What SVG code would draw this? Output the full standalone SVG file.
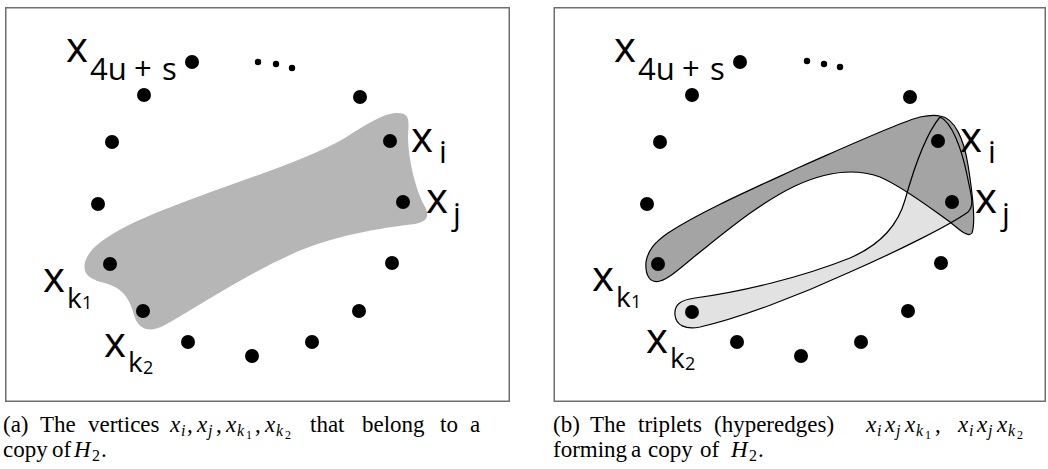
<svg xmlns="http://www.w3.org/2000/svg" xmlns:xlink="http://www.w3.org/1999/xlink" width="1048" height="469" viewBox="0 0 1048 469">
<style>
.frame{fill:#fff;stroke:#6e6e6e;stroke-width:1.5}
.dot{fill:#000}
.lbl{font-family:"Open Sans","Liberation Sans",sans-serif;fill:#000}
.big{font-size:42px}
.sub{font-size:31px}
.kk{font-size:28px}
.ss{font-size:18px}
.cap{font-family:"Liberation Serif",serif;font-size:23px;fill:#000}
.it{font-style:italic}
.s1{font-size:16px}
.s2{font-size:12px}
.edge{stroke:#000;stroke-width:1.2;fill:none;stroke-linejoin:round}
.blob{fill:#b6b6b6}
.he1{fill:#a4a4a4}
.he2{fill:#e2e2e2}
</style>
<defs>
<circle id="v" r="7" class="dot"/>
<circle id="e" r="3.2" class="dot"/>
</defs>
<rect width="1048" height="469" fill="#fff"/>

<!-- Panel (a) -->
<g id="panel-a">
<rect class="frame" x="5.75" y="7.75" width="503.5" height="393.5"/>
<g id="a-edges">
<path class="blob" d="M 397,113 C 410,113 409,120 408,135 C 408,160 416,190 424,205 C 430,215 428,222 415,224 C 380,228 330,236 290,255 C 240,278 200,305 165,325 C 150,333 140,330 135,318 C 130,300 125,290 108,284 C 92,280 82,276 85,262 C 92,238 140,218 200,196 C 260,174 310,158 345,138 C 370,122 385,113 397,113 Z"/>
</g>
<g id="a-x4us"><use xlink:href="#v" x="192" y="62"/><text class="lbl big" x="66" y="62">x</text><text class="lbl sub" y="80"><tspan x="90">4u</tspan><tspan x="134">+</tspan><tspan x="162">s</tspan></text></g>
<g id="a-dots"><use xlink:href="#e" x="258" y="62"/><use xlink:href="#e" x="276" y="64"/><use xlink:href="#e" x="292" y="68"/></g>
<g id="a-v1"><use xlink:href="#v" x="144" y="95"/></g>
<g id="a-v2"><use xlink:href="#v" x="360" y="97"/></g>
<g id="a-v3"><use xlink:href="#v" x="112" y="142"/></g>
<g id="a-xi"><use xlink:href="#v" x="390" y="141"/><text class="lbl big" x="411" y="152">x</text><text class="lbl sub" x="439" y="163">i</text></g>
<g id="a-v4"><use xlink:href="#v" x="98" y="204"/></g>
<g id="a-xj"><use xlink:href="#v" x="403" y="202"/><text class="lbl big" x="426" y="213">x</text><text class="lbl sub" x="453" y="225">j</text></g>
<g id="a-xk1"><use xlink:href="#v" x="110" y="264"/><text class="lbl big" x="43" y="292">x</text><text class="lbl kk" x="67" y="308">k</text><text class="lbl ss" x="82" y="309">1</text></g>
<g id="a-v5"><use xlink:href="#v" x="392" y="263"/></g>
<g id="a-xk2"><use xlink:href="#v" x="143" y="311"/><text class="lbl big" x="104" y="357">x</text><text class="lbl kk" x="128" y="372">k</text><text class="lbl ss" x="143" y="374">2</text></g>
<g id="a-v6"><use xlink:href="#v" x="359" y="311"/></g>
<g id="a-v7"><use xlink:href="#v" x="188" y="342"/></g>
<g id="a-v8"><use xlink:href="#v" x="312" y="342"/></g>
<g id="a-v9"><use xlink:href="#v" x="252" y="356"/></g>
</g>

<!-- Panel (b) -->
<g id="panel-b">
<rect class="frame" x="554.25" y="7.75" width="491" height="393.5"/>
<g transform="translate(548,0)">
<g id="b-edges">
<path class="he2" d="M 392,117 C 404,122 414,150 419,175 C 423,195 427,205 420,212 C 402,225 352,250 302,272 C 252,295 192,318 152,327 C 137,330 128,325 127,315 C 126,305 132,300 147,298 C 192,292 252,278 302,258 C 332,245 350,225 357,200 C 364,175 377,135 392,117 Z"/>
<path class="he1" d="M 392,116 C 407,118 416,140 420,165 C 424,190 428,222 424,233 C 420,238 412,230 402,222 C 382,208 357,188 332,177 C 307,168 277,172 247,186 C 212,203 182,228 152,252 C 132,268 122,278 112,281 C 102,284 97,275 98,262 C 100,250 107,242 120,233 C 152,212 202,190 252,167 C 302,145 352,122 372,117 C 382,115 387,115 392,116 Z"/>
<path class="edge" d="M 392,117 C 404,122 414,150 419,175 C 423,195 427,205 420,212 C 402,225 352,250 302,272 C 252,295 192,318 152,327 C 137,330 128,325 127,315 C 126,305 132,300 147,298 C 192,292 252,278 302,258 C 332,245 350,225 357,200 C 364,175 377,135 392,117 Z"/>
<path class="edge" d="M 392,116 C 407,118 416,140 420,165 C 424,190 428,222 424,233 C 420,238 412,230 402,222 C 382,208 357,188 332,177 C 307,168 277,172 247,186 C 212,203 182,228 152,252 C 132,268 122,278 112,281 C 102,284 97,275 98,262 C 100,250 107,242 120,233 C 152,212 202,190 252,167 C 302,145 352,122 372,117 C 382,115 387,115 392,116 Z"/>
</g>
<g id="b-x4us"><use xlink:href="#v" x="192" y="62"/><text class="lbl big" x="66" y="62">x</text><text class="lbl sub" y="80"><tspan x="90">4u</tspan><tspan x="134">+</tspan><tspan x="162">s</tspan></text></g>
<g id="b-dots"><use xlink:href="#e" x="259" y="61"/><use xlink:href="#e" x="276" y="64"/><use xlink:href="#e" x="292" y="67"/></g>
<g id="b-v1"><use xlink:href="#v" x="144" y="95"/></g>
<g id="b-v2"><use xlink:href="#v" x="362" y="97"/></g>
<g id="b-v3"><use xlink:href="#v" x="112" y="142"/></g>
<g id="b-xi"><use xlink:href="#v" x="390" y="141"/><text class="lbl big" x="412" y="152">x</text><text class="lbl sub" x="440" y="163">i</text></g>
<g id="b-v4"><use xlink:href="#v" x="99" y="204"/></g>
<g id="b-xj"><use xlink:href="#v" x="404" y="202"/><text class="lbl big" x="427" y="213">x</text><text class="lbl sub" x="454" y="225">j</text></g>
<g id="b-xk1"><use xlink:href="#v" x="110" y="264"/><text class="lbl big" x="44" y="291">x</text><text class="lbl kk" x="68" y="307">k</text><text class="lbl ss" x="83" y="308">1</text></g>
<g id="b-v5"><use xlink:href="#v" x="393" y="263"/></g>
<g id="b-xk2"><use xlink:href="#v" x="144" y="312"/><text class="lbl big" x="98" y="353">x</text><text class="lbl kk" x="122" y="368">k</text><text class="lbl ss" x="137" y="370">2</text></g>
<g id="b-v6"><use xlink:href="#v" x="360" y="311"/></g>
<g id="b-v7"><use xlink:href="#v" x="189" y="342"/></g>
<g id="b-v8"><use xlink:href="#v" x="313" y="342"/></g>
<g id="b-v9"><use xlink:href="#v" x="253" y="356"/></g>
</g>
</g>

<!-- Captions -->
<g id="caption-a">
<text class="cap" y="432"><tspan x="3">(a)</tspan><tspan x="40">The</tspan><tspan x="88">vertices</tspan></text>
<text class="cap it" x="170" y="432">x</text><text class="cap it s1" x="181" y="436">i</text><text class="cap" x="187" y="432">,</text>
<text class="cap it" x="197" y="432">x</text><text class="cap it s1" x="208" y="436">j</text><text class="cap" x="216" y="432">,</text>
<text class="cap it" x="226" y="432">x</text><text class="cap it s1" x="237" y="436">k</text><text class="cap s2" x="246" y="439">1</text><text class="cap" x="255" y="432">,</text>
<text class="cap it" x="265" y="432">x</text><text class="cap it s1" x="276" y="436">k</text><text class="cap s2" x="285" y="439">2</text>
<text class="cap" y="432"><tspan x="310">that</tspan><tspan x="362">belong</tspan><tspan x="440">to</tspan><tspan x="470">a</tspan></text>
<text class="cap" y="457"><tspan x="3">copy</tspan><tspan x="52">of</tspan></text>
<text class="cap it" x="74" y="457">H</text><text class="cap s1" x="92" y="461">2</text><text class="cap" x="101" y="457">.</text>
</g>

<g id="caption-b">
<text class="cap" y="432"><tspan x="553">(b)</tspan><tspan x="590">The</tspan><tspan x="638">triplets</tspan><tspan x="714">(hyperedges)</tspan></text>
<text class="cap it" x="866" y="432">x</text><text class="cap it s1" x="877" y="436">i</text>
<text class="cap it" x="885" y="432">x</text><text class="cap it s1" x="896" y="436">j</text>
<text class="cap it" x="905" y="432">x</text><text class="cap it s1" x="916" y="436">k</text><text class="cap s2" x="925" y="439">1</text><text class="cap" x="935" y="432">,</text>
<text class="cap it" x="958" y="432">x</text><text class="cap it s1" x="969" y="436">i</text>
<text class="cap it" x="977" y="432">x</text><text class="cap it s1" x="988" y="436">j</text>
<text class="cap it" x="997" y="432">x</text><text class="cap it s1" x="1008" y="436">k</text><text class="cap s2" x="1017" y="439">2</text>
<text class="cap" y="457"><tspan x="553">forming</tspan><tspan x="631">a</tspan><tspan x="648">copy</tspan><tspan x="700">of</tspan></text>
<text class="cap it" x="731" y="457">H</text><text class="cap s1" x="749" y="461">2</text><text class="cap" x="758" y="457">.</text>
</g>
</svg>
